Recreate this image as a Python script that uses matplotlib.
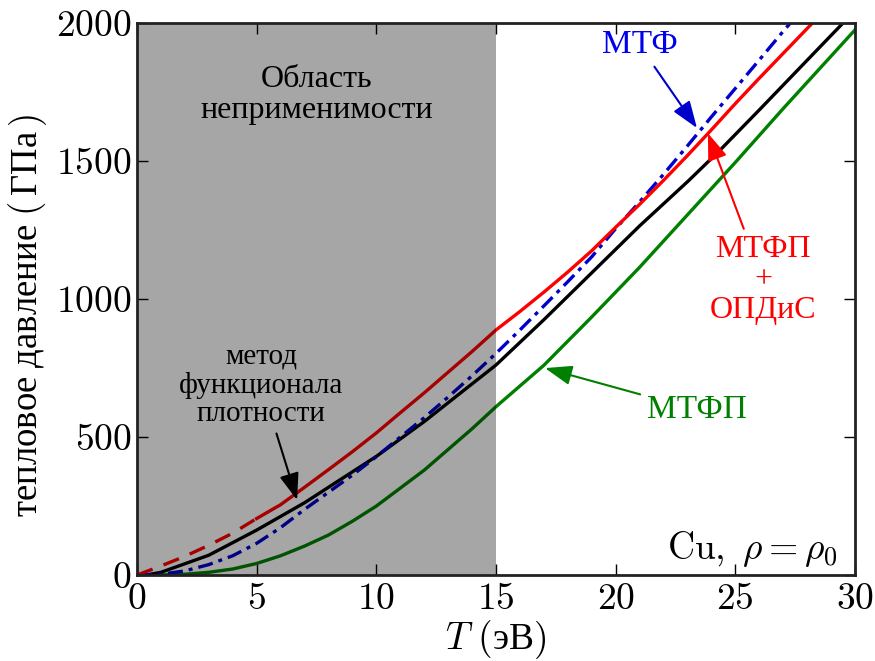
import matplotlib
matplotlib.use("Agg")
import matplotlib.pyplot as plt
from matplotlib.ticker import FuncFormatter

plt.rcParams['font.family'] = ['Liberation Serif', 'DejaVu Serif']
plt.rcParams['mathtext.fontset'] = 'cm'

# метод функционала плотности (black)
T_dft = [0, 0.5, 1, 3, 5, 7, 10, 12, 15, 17, 19, 21, 23, 24.3, 26, 28, 29.5, 30]
P_dft = [0, 2, 10, 72, 163, 262, 430, 556, 761, 925, 1095, 1265, 1425, 1534, 1685, 1865, 2000, 2045]

# МТФ (blue, dash-dot)
T_tf = [0, 1, 2, 3, 4, 5, 6, 7, 8, 9, 10, 11, 12, 13, 14, 15, 16, 17, 18, 19, 20, 21, 22, 23, 24, 25, 26, 27, 27.6]
P_tf = [0, 3, 15, 38, 70, 115, 172, 238, 300, 362, 429, 500, 570, 645, 722, 803, 888, 975, 1063, 1153,
        1255, 1352, 1452, 1555, 1660, 1763, 1866, 1970, 2030]

# МТФП + ОПДиС (red): dashed part and solid part
T_red_dash = [0, 1, 2, 3, 4, 5]
P_red_dash = [0, 33, 68, 108, 152, 205]
T_red = [5, 6, 7, 8, 9, 10, 11, 12, 13, 14, 15, 16, 17, 18, 19, 20, 21, 22, 23, 24, 25, 26, 27, 28, 28.5]
P_red = [205, 255, 318, 382, 447, 515, 588, 660, 735, 810, 888, 955, 1025, 1098, 1175, 1260, 1343,
         1430, 1520, 1613, 1708, 1800, 1890, 1980, 2025]

# МТФП (green)
T_tfc = [0, 1, 2, 3, 4, 5, 6, 7, 8, 9, 10, 11, 12, 13, 14, 15, 17, 19, 21, 23, 25, 27, 29, 30]
P_tfc = [0, 0.5, 3, 10, 22, 42, 70, 105, 145, 195, 250, 315, 380, 455, 530, 610, 760, 935, 1115,
         1305, 1495, 1690, 1880, 1975]

fig = plt.figure(figsize=(8.75, 6.61), dpi=100)
ax = fig.add_axes([0.1566, 0.130, 0.8204, 0.835])

lw = 2.4
ax.plot(T_tfc, P_tfc, color='#008000', lw=lw, zorder=2)
ax.plot(T_dft, P_dft, color='black', lw=lw, zorder=2)
ax.plot(T_tf, P_tf, color='#0000cc', lw=lw, dashes=(4.5, 1.8, 1.2, 1.8), zorder=2)
ax.plot(T_red_dash, P_red_dash, color='#ff0000', lw=lw, dashes=(5, 3.5), zorder=2)
ax.plot(T_red, P_red, color='#ff0000', lw=lw, zorder=2)

# область неприменимости
ax.axvspan(0, 15, color='black', alpha=0.35, lw=0, zorder=3)

ax.set_xlim(0, 30)
ax.set_ylim(0, 2000)
ax.set_xticks([0, 5, 10, 15, 20, 25, 30])
ax.set_yticks([0, 500, 1000, 1500, 2000])
fmt = FuncFormatter(lambda v, p: f"${v:g}$")
ax.xaxis.set_major_formatter(fmt)
ax.yaxis.set_major_formatter(fmt)
ax.tick_params(direction='in', length=8, width=1, top=True, right=True, labelsize=27)
ax.tick_params(axis='x', pad=5)
ax.tick_params(axis='y', pad=4)
for s in ax.spines.values():
    s.set_linewidth(2)
    s.set_color('#222222')
    s.set_zorder(6)

ax.set_xlabel(r"$T\ ($эВ$)$", fontsize=27, va='center')
ax.xaxis.set_label_coords(0.5, -0.117)
ax.set_ylabel(r"тепловое давление $(\,$ГПа$\,)$", fontsize=26.5, va='center')
ax.yaxis.set_label_coords(-0.152, 0.47)

ax.text(7.5, 1739, "Область\nнеприменимости", fontsize=23, ha='center', va='center',
        linespacing=1.1, zorder=5)

arrow = dict(arrowstyle='-|>,head_length=0.55,head_width=0.2', lw=1.5,
             mutation_scale=30, shrinkA=3, shrinkB=0)

ax.annotate("метод\nфункционала\nплотности", xy=(6.69, 272), xytext=(5.2, 688),
            fontsize=21, ha='center', va='center', linespacing=1.1, zorder=5,
            arrowprops=dict(arrow, color='black'))

ax.annotate("МТФ", xy=(23.4, 1620), xytext=(21.0, 1920), color='#0000ee',
            fontsize=24, ha='center', va='center', zorder=5,
            arrowprops=dict(arrow, color='#0000cc'))

ax.annotate("МТФП\n+\nОПДиС", xy=(23.86, 1601), xytext=(26.16, 1069), color='#ff0000',
            fontsize=23, ha='center', va='center', linespacing=1.05, zorder=5,
            arrowprops=dict(arrow, color='#ff0000'))

ax.annotate("МТФП", xy=(17.05, 750), xytext=(23.4, 598), color='#008000',
            fontsize=24, ha='center', va='center', zorder=5,
            arrowprops=dict(arrow, color='#008000'))

ax.text(29.3, 95, r"$\mathrm{Cu},\ \rho=\rho_0$", fontsize=27, ha='right', va='center', zorder=5)

fig.savefig("out.png", dpi=100)
